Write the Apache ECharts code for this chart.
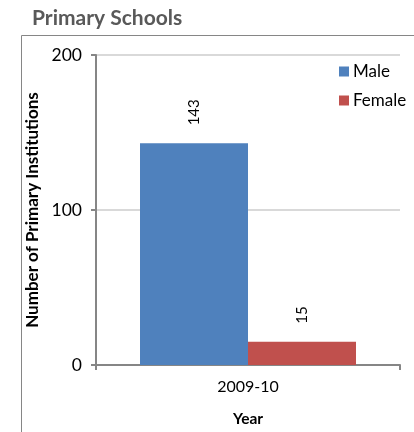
<!DOCTYPE html>
<html><head><meta charset="utf-8">
<script src="https://cdn.jsdelivr.net/npm/echarts@6/dist/echarts.min.js"></script>
<style>html,body{margin:0;padding:0;background:#fff;}#c{width:414px;height:432px;}</style>
</head><body><div id="c"></div>
<script>
const categories = ['2009-10'];
const maleValues = [143];
const femaleValues = [15];
const yTicks = [0, 100, 200];

const FONT = 'Lato';
const chart = echarts.init(document.getElementById('c'), null, {renderer: 'canvas'});
const labelCfg = {
  show: true, position: 'top', rotate: 90, distance: 18,
  align: 'left', verticalAlign: 'middle',
  color: '#000', fontSize: 15, fontFamily: FONT
};
chart.setOption({
  animation: false,
  textStyle: {fontFamily: FONT},
  title: {
    text: 'Primary Schools', left: 27, top: 3,
    textStyle: {fontFamily: FONT, fontSize: 21, fontWeight: 'bold', color: '#595959'}
  },
  graphic: [{
    type: 'rect', shape: {x: 21.5, y: 35.5, width: 420, height: 420},
    style: {fill: 'none', stroke: '#868686', lineWidth: 1}, silent: true
  }],
  legend: {
    orient: 'vertical', left: 339, top: 63, padding: 0,
    itemWidth: 10, itemHeight: 10, itemGap: 12, icon: 'rect',
    textStyle: {fontFamily: FONT, fontSize: 17, color: '#000', padding: [0, 0, 0, -1]},
    data: ['Male', 'Female']
  },
  grid: {left: 96, right: 14, top: 55, bottom: 65, containLabel: false},
  xAxis: {
    type: 'category', data: categories,
    name: 'Year', nameLocation: 'middle', nameGap: 46,
    nameTextStyle: {fontFamily: FONT, fontSize: 15.5, fontWeight: 'bold', color: '#000'},
    axisLine: {lineStyle: {color: '#868686', width: 2}},
    axisTick: {show: true, length: 5, lineStyle: {color: '#868686', width: 2}},
    axisLabel: {fontFamily: FONT, fontSize: 16, color: '#000', margin: 14}
  },
  yAxis: {
    type: 'value', min: yTicks[0], max: yTicks[yTicks.length - 1], interval: 100,
    name: 'Number of Primary Institutions', nameLocation: 'middle', nameGap: 47,
    nameTextStyle: {fontFamily: FONT, fontSize: 17, fontWeight: 'bold', color: '#000'},
    axisLine: {show: true, lineStyle: {color: '#868686', width: 2}},
    axisTick: {show: true, length: 5, lineStyle: {color: '#868686', width: 2}},
    axisLabel: {fontFamily: FONT, fontSize: 17.5, color: '#000', margin: 14},
    splitLine: {lineStyle: {color: '#d9d9d9', width: 2}}
  },
  series: [
    {name: 'Male', type: 'bar', data: maleValues, barWidth: 108, barGap: '0%',
     itemStyle: {color: '#4f81bd'}, label: labelCfg},
    {name: 'Female', type: 'bar', data: femaleValues, barWidth: 108, barGap: '0%',
     itemStyle: {color: '#c0504d'}, label: labelCfg}
  ]
});
</script></body></html>
